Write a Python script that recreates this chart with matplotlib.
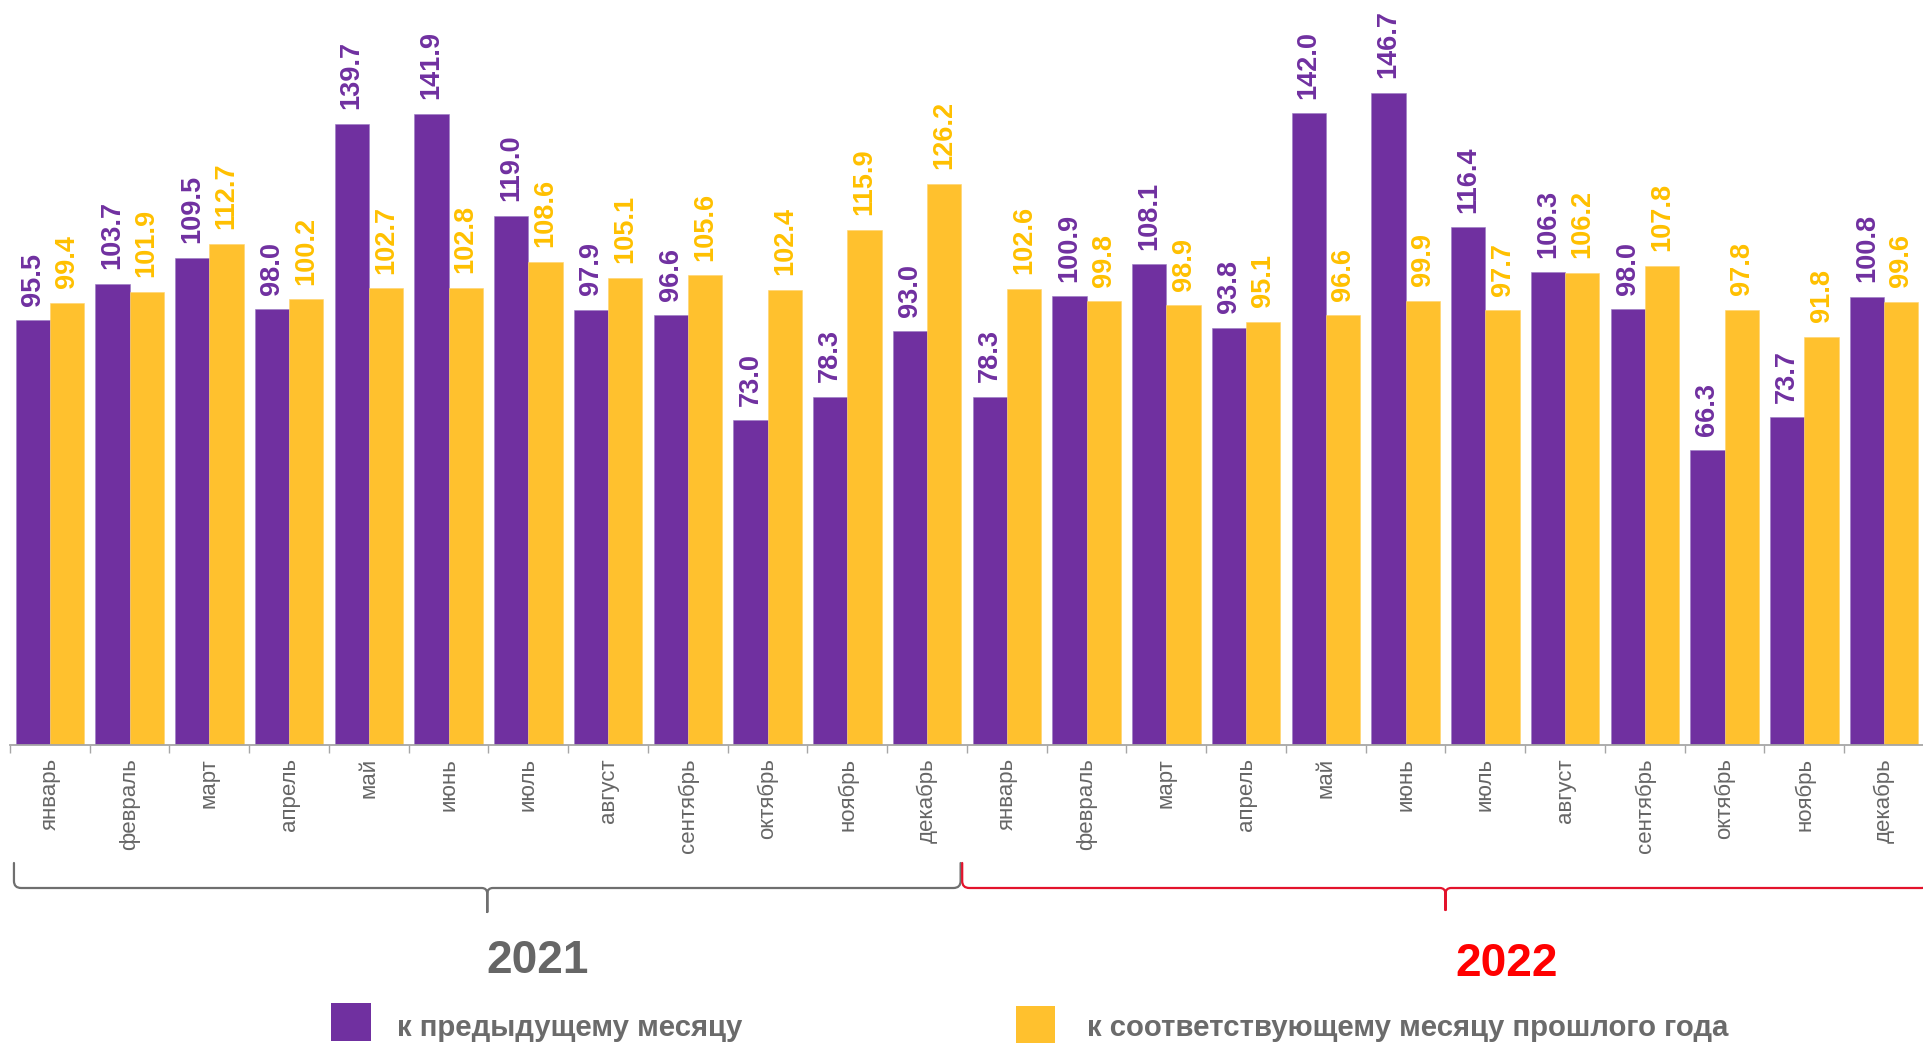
import matplotlib
matplotlib.use("Agg")
import matplotlib.pyplot as plt
import numpy as np
from matplotlib.path import Path
from matplotlib.patches import PathPatch, Rectangle
from matplotlib.transforms import blended_transform_factory

plt.rcParams['font.family'] = ['Liberation Sans', 'DejaVu Sans']

# ---------------- data ----------------
months = ["январь", "февраль", "март", "апрель", "май", "июнь", "июль",
          "август", "сентябрь", "октябрь", "ноябрь", "декабрь"]
years = ["2021", "2022"]
prev_month_2021 = [95.5, 103.7, 109.5, 98.0, 139.7, 141.9, 119.0, 97.9, 96.6, 73.0, 78.3, 93.0]
prev_month_2022 = [78.3, 100.9, 108.1, 93.8, 142.0, 146.7, 116.4, 106.3, 98.0, 66.3, 73.7, 100.8]
prev_year_2021 = [99.4, 101.9, 112.7, 100.2, 102.7, 102.8, 108.6, 105.1, 105.6, 102.4, 115.9, 126.2]
prev_year_2022 = [102.6, 99.8, 98.9, 95.1, 96.6, 99.9, 97.7, 106.2, 107.8, 97.8, 91.8, 99.6]
legend_labels = ["к предыдущему месяцу", "к соответствующему месяцу прошлого года"]

prev_month = prev_month_2021 + prev_month_2022
prev_year = prev_year_2021 + prev_year_2022
labels = months + months

PURPLE = "#7030A0"
YELLOW = "#FFC12E"
YELLOW_TXT = "#FFC000"
GRAY_TXT = "#666666"

W, H = 1924, 1043
fig = plt.figure(figsize=(W / 100, H / 100), dpi=100)
ax = fig.add_axes([0, 1 - 745 / H, 1, 745 / H])

x = np.arange(len(labels))
bw = 0.43
ax.bar(x - bw / 2, prev_month, bw, color=PURPLE, edgecolor="#9B7BC4", linewidth=0.4)
ax.bar(x + bw / 2, prev_year, bw, color=YELLOW, edgecolor="#FFD36B", linewidth=0.4)

for xi, v in zip(x - bw / 2, prev_month):
    ax.annotate(f"{v:.1f}", (xi, v), xytext=(0, 10.5), textcoords="offset points",
                rotation=90, ha="center", va="bottom", color=PURPLE,
                fontsize=19.5, fontweight="bold")
for xi, v in zip(x + bw / 2, prev_year):
    ax.annotate(f"{v:.1f}", (xi, v), xytext=(0, 10.5), textcoords="offset points",
                rotation=90, ha="center", va="bottom", color=YELLOW_TXT,
                fontsize=19.5, fontweight="bold")

ax.set_xlim(-0.625, 23.32)
ax.set_ylim(0, 167.5)

for s in ["top", "right", "left"]:
    ax.spines[s].set_visible(False)
ax.spines["bottom"].set_color("#A6A6A6")
ax.spines["bottom"].set_linewidth(1.3)
ax.spines["bottom"].set_bounds(-0.5, 23.5)
ax.set_yticks([])
ax.set_xticks(x)
ax.set_xticklabels(labels, rotation=90, fontsize=16, color=GRAY_TXT)
ax.tick_params(axis="x", which="major", length=0, pad=9.5)
ax.set_xticks(np.arange(-0.5, 24, 1), minor=True)
ax.tick_params(axis="x", which="minor", length=6, width=1.0, color="#A6A6A6")
ax.patch.set_alpha(0)

# ---------------- braces ----------------
tr = blended_transform_factory(ax.transData, fig.transFigure)


def fy(py):
    return 1 - py / H


def brace(xl, xr, color, y_top=863, y_h=888, y_c=912):
    xm = (xl + xr) / 2
    rx = 0.09
    ry = 7
    rxc = 0.07
    verts = [
        (xl, fy(y_top)), (xl, fy(y_h - ry)),
        (xl, fy(y_h)), (xl + rx, fy(y_h)),
        (xm - rxc, fy(y_h)),
        (xm, fy(y_h)), (xm, fy(y_h + 6)),
        (xm, fy(y_c)),
        (xm, fy(y_h + 6)),
        (xm, fy(y_h)), (xm + rxc, fy(y_h)),
        (xr - rx, fy(y_h)),
        (xr, fy(y_h)), (xr, fy(y_h - ry)),
        (xr, fy(y_top)),
    ]
    codes = [Path.MOVETO, Path.LINETO,
             Path.CURVE3, Path.CURVE3,
             Path.LINETO,
             Path.CURVE3, Path.CURVE3,
             Path.LINETO,
             Path.LINETO,
             Path.CURVE3, Path.CURVE3,
             Path.LINETO,
             Path.CURVE3, Path.CURVE3,
             Path.LINETO]
    p = PathPatch(Path(verts, codes), transform=tr, facecolor="none",
                  edgecolor=color, linewidth=1.6, clip_on=False,
                  joinstyle="round", capstyle="round")
    fig.add_artist(p)


brace(-0.45, 11.42, "#6F6F6F")
brace(11.44, 23.56, "#E3132C", y_c=910)

fig.text(538 / W, fy(973), years[0], ha="center", va="baseline",
         fontsize=33, fontweight="bold", color="#666666")
fig.text(1507 / W, fy(976), years[1], ha="center", va="baseline",
         fontsize=33, fontweight="bold", color="#FF0000")

# ---------------- legend ----------------
fig.add_artist(Rectangle((331 / W, fy(1041)), 40 / W, 38 / H, transform=fig.transFigure,
                         facecolor=PURPLE, edgecolor="none"))
fig.add_artist(Rectangle((1016 / W, fy(1044)), 39 / W, 38 / H, transform=fig.transFigure,
                         facecolor=YELLOW, edgecolor="none"))
fig.text(397 / W, fy(1036), legend_labels[0], ha="left", va="baseline",
         fontsize=21.2, fontweight="bold", color="#6B6B6B")
fig.text(1087 / W, fy(1036), legend_labels[1], ha="left", va="baseline",
         fontsize=21.2, fontweight="bold", color="#6B6B6B")

fig.savefig("out.png", dpi=100)
